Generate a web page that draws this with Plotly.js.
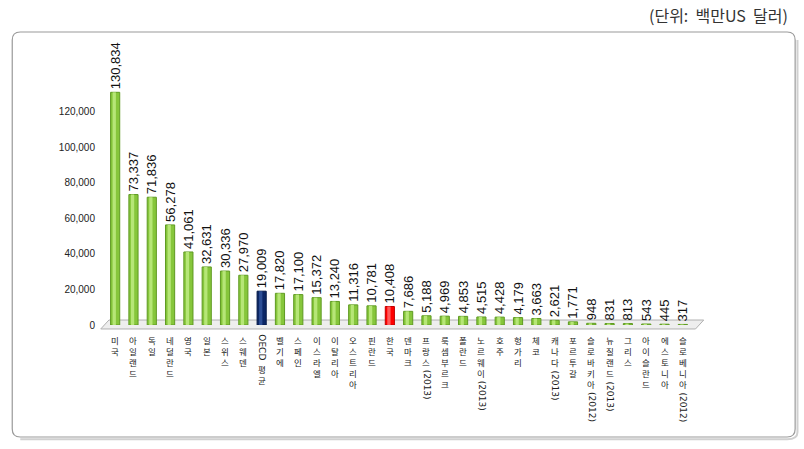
<!DOCTYPE html>
<html>
<head>
    <meta charset="utf-8">
    <title>국가별 지출</title>
    <script src="https://cdn.plot.ly/plotly-3.0.1.min.js"></script>
    <style>
        body { margin: 0; background: #fff; }
        #chart { width: 804px; height: 449px; }
    </style>
</head>
<body>
    <div id="chart"></div>
    <script>
        // 국가 이름 (세로 글자), 앞/뒤의 회전 표기
        const countries = ["미국", "아일랜드", "독일", "네덜란드", "영국", "일본", "스위스", "스웨덴",
            "평균", "벨기에", "스페인", "이스라엘", "이탈리아", "오스트리아", "핀란드", "한국", "덴마크",
            "프랑스", "룩셈부르크", "폴란드", "노르웨이", "호주", "헝가리", "체코", "캐나다", "포르투갈",
            "슬로바키아", "뉴질랜드", "그리스", "아이슬란드", "에스토니아", "슬로베니아"];
        const prefixNotes = ["", "", "", "", "", "", "", "", "OECD", "", "", "", "", "", "", "", "",
            "", "", "", "", "", "", "", "", "", "", "", "", "", "", ""];
        const suffixNotes = ["", "", "", "", "", "", "", "", "", "", "", "", "", "", "", "", "",
            "(2013)", "", "", "(2013)", "", "", "", "(2013)", "", "(2012)", "(2013)", "", "", "", "(2012)"];
        const values = [130834, 73337, 71836, 56278, 41061, 32631, 30336, 27970, 19009, 17820, 17100,
            15372, 13240, 11316, 10781, 10408, 7686, 5188, 4969, 4853, 4515, 4428, 4179, 3663, 2621,
            1771, 948, 831, 813, 543, 445, 317];
        const yTicks = [0, 20000, 40000, 60000, 80000, 100000, 120000];

        const idx = countries.map((_, i) => i);
        const pick = (i, g, n, r) => prefixNotes[i] === "OECD" ? n : (countries[i] === "한국" ? r : g);
        const barColors = idx.map(i => pick(i, "#86c63b", "#0c2766", "#ff0000"));
        const lineColors = idx.map(i => pick(i, "#5f9a22", "#061a48", "#c00000"));
        const shineColors = idx.map(i => pick(i, "#b6e677", "#2d4f96", "#ff5c5c"));

        const bars = {
            x: idx,
            y: values,
            type: "bar",
            width: 0.5,
            marker: { color: barColors, line: { color: lineColors, width: 1 } },
            text: values.map(v => v.toLocaleString("en-US")),
            textposition: "outside",
            textangle: -90,
            constraintext: "none",
            cliponaxis: false,
            textfont: { family: "Liberation Sans", size: 13, color: "#111" },
            hoverinfo: "skip"
        };
        // 원기둥 느낌의 밝은 부분
        const shine = {
            x: idx,
            y: values,
            type: "bar",
            width: 0.18,
            offset: -0.14,
            marker: { color: shineColors, line: { width: 0 } },
            hoverinfo: "skip"
        };

        // 회전 글자 길이 측정
        const ctx = document.createElement("canvas").getContext("2d");
        const noteFont = 9;
        ctx.font = noteFont + 'px "DejaVu Sans"';
        const textLen = s => ctx.measureText(s).width;

        const labelSize = 8.5;
        const pitch = labelSize * 1.3;
        const annotations = [];
        const base = { xref: "x", y: 0, yref: "paper", yanchor: "top", xanchor: "center", showarrow: false, borderpad: 0 };
        countries.forEach((name, i) => {
            let y = 8;
            if (prefixNotes[i]) {
                annotations.push(Object.assign({}, base, { x: i, yshift: -y, text: prefixNotes[i], textangle: 90,
                    font: { family: "DejaVu Sans", size: noteFont, color: "#222" } }));
                y += textLen(prefixNotes[i]) + 3;
            }
            annotations.push(Object.assign({}, base, { x: i, yshift: -y, text: name.split("").join("<br>"),
                font: { family: "Noto Sans CJK KR", size: labelSize, color: "#222" } }));
            y += name.length * pitch + 3;
            if (suffixNotes[i]) {
                annotations.push(Object.assign({}, base, { x: i, yshift: -y, text: suffixNotes[i], textangle: 90,
                    font: { family: "DejaVu Sans", size: noteFont, color: "#222" } }));
            }
        });

        annotations.push({
            x: 1.167, xref: "paper", y: 1.245, yref: "paper", xanchor: "right", yanchor: "middle",
            text: "(단위:  백만US  달러)", showarrow: false,
            font: { family: "Noto Sans CJK KR", size: 16, color: "#333" }
        });

        // 둥근 테두리 (paper 좌표)
        const bx0 = -0.160, bx1 = 1.176, by0 = -0.4498, by1 = 1.1767, rx = 0.0137, ry = 0.032;
        const framePath = `M ${bx0 + rx},${by1} L ${bx1 - rx},${by1} Q ${bx1},${by1} ${bx1},${by1 - ry} ` +
            `L ${bx1},${by0 + ry} Q ${bx1},${by0} ${bx1 - rx},${by0} L ${bx0 + rx},${by0} ` +
            `Q ${bx0},${by0} ${bx0},${by0 + ry} L ${bx0},${by1 - ry} Q ${bx0},${by1} ${bx0 + rx},${by1} Z`;
        const shadowPath = `M ${bx1 + 0.004},${by1 - ry} L ${bx1 + 0.004},${by0 + ry * 0.6} ` +
            `Q ${bx1 + 0.004},${by0 - 0.009} ${bx1 - rx},${by0 - 0.009} L ${bx0 + rx},${by0 - 0.009}`;

        const layout = {
            width: 804,
            height: 449,
            margin: { l: 106, r: 112, t: 76, b: 124 },
            paper_bgcolor: "#fff",
            plot_bgcolor: "rgba(0,0,0,0)",
            showlegend: false,
            barmode: "overlay",
            xaxis: {
                range: [-0.5, idx.length - 0.5],
                showticklabels: false,
                showgrid: false,
                zeroline: false,
                showline: false,
                ticks: ""
            },
            yaxis: {
                range: [0, 140000],
                tickvals: yTicks,
                tickformat: ",",
                showgrid: false,
                zeroline: false,
                showline: false,
                ticklabelstandoff: 10,
                tickfont: { family: "Liberation Sans", size: 10, color: "#222" }
            },
            annotations: annotations,
            shapes: [
                // 바닥
                { type: "path", xref: "paper", yref: "paper",
                  path: "M -0.009,-0.016 L 0.005,0.02 L 1.02,0.02 L 1.006,-0.016 Z",
                  fillcolor: "#eeeeee", line: { color: "#b0b0b0", width: 1 }, layer: "below" },
                // 테두리
                { type: "path", xref: "paper", yref: "paper", path: shadowPath,
                  line: { color: "#d0d0d0", width: 2 } },
                { type: "path", xref: "paper", yref: "paper", path: framePath,
                  line: { color: "#9a9a9a", width: 1.2 } }
            ]
        };

        Plotly.newPlot("chart", [bars, shine], layout, { displayModeBar: false, staticPlot: true });
    </script>
</body>
</html>
